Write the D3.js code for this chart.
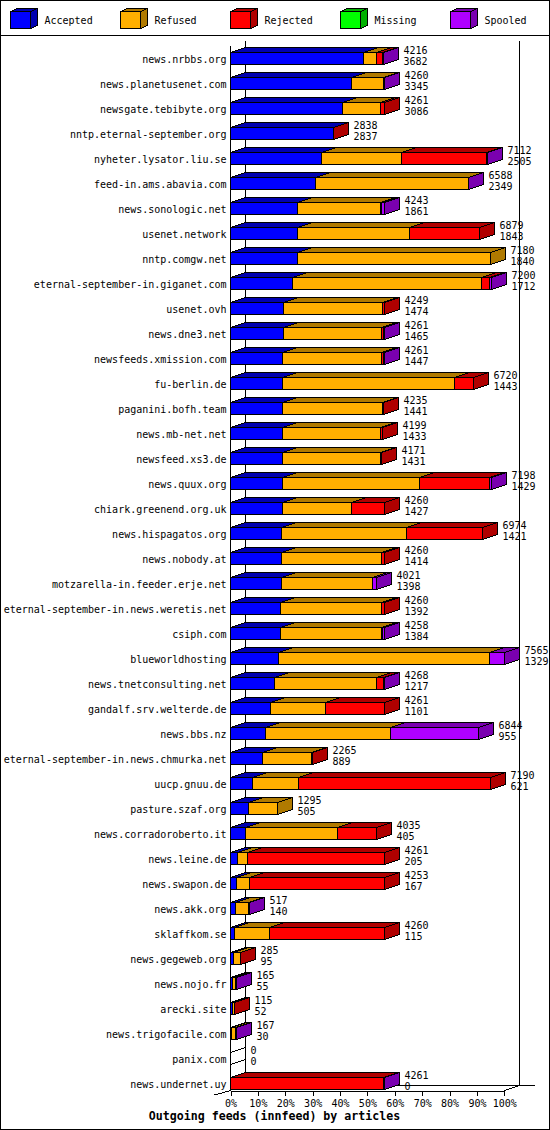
<!DOCTYPE html>
<html><head><meta charset="utf-8">
<script src="https://cdn.jsdelivr.net/npm/d3@7"></script>
<style>body{margin:0;background:#fff}svg{display:block}text{font-family:"DejaVu Sans Mono",monospace}rect,line,polygon,path{shape-rendering:crispEdges}</style>
</head><body><script>
const hosts=["news.nrbbs.org","news.planetusenet.com","newsgate.tebibyte.org","nntp.eternal-september.org","nyheter.lysator.liu.se","feed-in.ams.abavia.com","news.sonologic.net","usenet.network","nntp.comgw.net","eternal-september-in.giganet.com","usenet.ovh","news.dne3.net","newsfeeds.xmission.com","fu-berlin.de","paganini.bofh.team","news.mb-net.net","newsfeed.xs3.de","news.quux.org","chiark.greenend.org.uk","news.hispagatos.org","news.nobody.at","motzarella-in.feeder.erje.net","eternal-september-in.news.weretis.net","csiph.com","blueworldhosting","news.tnetconsulting.net","gandalf.srv.welterde.de","news.bbs.nz","eternal-september-in.news.chmurka.net","uucp.gnuu.de","pasture.szaf.org","news.corradoroberto.it","news.leine.de","news.swapon.de","news.akk.org","sklaffkom.se","news.gegeweb.org","news.nojo.fr","arecki.site","news.trigofacile.com","panix.com","news.undernet.uy"];
const accepted=[3682,3345,3086,2837,2505,2349,1861,1843,1840,1712,1474,1465,1447,1443,1441,1433,1431,1429,1427,1421,1414,1398,1392,1384,1329,1217,1101,955,889,621,505,405,205,167,140,115,95,55,52,30,0,0];
const refused=[348,890,1055,0,2217,4215,2289,3110,5340,5234,2734,2714,2713,4748,2767,2717,2700,3795,1910,3445,2765,2520,2787,2795,5830,2827,1530,3476,1346,1265,790,2565,259,346,353,949,176,71,45,115,0,0];
const rejected=[165,0,120,1,2360,0,30,1926,0,213,41,48,68,529,27,49,40,1935,923,2108,81,0,81,30,0,184,1630,0,30,5304,0,1065,3797,3740,0,3196,14,0,18,0,0,4220];
const missing=[0,0,0,0,0,0,0,0,0,0,0,0,0,0,0,0,0,0,0,0,0,0,0,0,0,0,0,0,0,0,0,0,0,0,0,0,0,0,0,0,0,0];
const spooled=[21,25,0,0,30,24,63,0,0,41,0,34,33,0,0,0,0,39,0,0,0,103,0,49,406,40,0,2413,0,0,0,0,0,0,24,0,0,39,0,22,0,41];
const seriesNames=["Accepted","Refused","Rejected","Missing","Spooled"];
const tickLabels=["0%","10%","20%","30%","40%","50%","60%","70%","80%","90%","100%"];
const colors=["#0000ff","#ffaf00","#ff0000","#00ff00","#af00ff"];
const darkColors=["#0000b0","#b07a00","#b00000","#00b000","#7a00b0"];

const W=550,H=1130,DX=15,DY=5;
const series=[accepted,refused,rejected,missing,spooled];
const totals=hosts.map((h,i)=>d3.sum(series,s=>s[i]));
const maxTotal=d3.max(totals);

const svg=d3.select("body").append("svg").attr("width",W).attr("height",H);
svg.append("rect").attr("x",0.5).attr("y",0.5).attr("width",W-1).attr("height",H-1).attr("fill","#fff").attr("stroke","#000");
svg.append("line").attr("x1",0).attr("x2",W).attr("y1",35.5).attr("y2",35.5).attr("stroke","#000");

// legend
const lg=svg.append("g");
seriesNames.forEach((n,i)=>{
  const x0=10.5+110*i, t=11.5, b=28.5, w=20, ldx=7, ldy=3;
  lg.append("rect").attr("x",x0).attr("y",t).attr("width",w).attr("height",b-t).attr("fill",colors[i]).attr("stroke","#000");
  lg.append("polygon").attr("points",[[x0,t],[x0+ldx,t-ldy],[x0+w+ldx,t-ldy],[x0+w,t]].join(" ")).attr("fill",darkColors[i]).attr("stroke","#000");
  lg.append("polygon").attr("points",[[x0+w,t],[x0+w+ldx,t-ldy],[x0+w+ldx,b-ldy],[x0+w,b]].join(" ")).attr("fill",darkColors[i]).attr("stroke","#000");
  lg.append("text").attr("x",x0+34).attr("y",23.6).attr("font-size",10).text(n);
});

const x=d3.scaleLinear().domain([0,100]).range([230.5,504.3]);
const px=v=>Math.round(x(v)-0.5)+0.5;
const y=d3.scalePoint().domain(hosts).range([59,1084]);
const X0=px(0), yTop=40.5, yFront=1090.5, yBack=yFront-DY;

// frame
const fr=svg.append("g").attr("stroke","#000").attr("fill","none");
fr.append("line").attr("x1",X0+DX).attr("x2",X0+DX).attr("y1",yTop).attr("y2",yBack);
fr.append("line").attr("x1",px(100)+DX).attr("x2",px(100)+DX).attr("y1",yTop).attr("y2",yBack);
fr.append("line").attr("x1",X0+DX).attr("x2",535).attr("y1",yBack).attr("y2",yBack);
fr.append("line").attr("x1",px(100)).attr("x2",px(100)+DX).attr("y1",yFront).attr("y2",yBack);
fr.append("line").attr("x1",X0-16).attr("x2",X0).attr("y1",yFront+4.5).attr("y2",yFront);
fr.append("line").attr("x1",X0).attr("x2",X0).attr("y1",yTop+DY).attr("y2",yFront);

// axis
const ax=svg.append("g").attr("transform",`translate(0,${yFront})`)
  .call(d3.axisBottom(x).tickValues(d3.range(0,101,10)).tickFormat((d,i)=>tickLabels[i]).tickSize(5).tickPadding(3));
ax.select(".domain").attr("stroke","#000");
ax.selectAll("line").attr("stroke","#000");
ax.selectAll("text").attr("font-family","DejaVu Sans Mono").attr("font-size",10).attr("fill","#000").attr("dy",0).attr("y",16.3);

// bars
const bars=svg.append("g");
hosts.forEach((h,i)=>{
  const yc=y(h), t=yc-6.5, b=yc+5.5;
  const g=bars.append("g");
  let cum=0;
  if(totals[i]===0){
    g.append("polygon").attr("points",[[X0,t],[X0+DX,t-DY],[X0+DX,b-DY],[X0,b]].join(" ")).attr("fill","#fff").attr("stroke","#000");
  }
  series.forEach((s,k)=>{
    const v=s[i]; if(!v) return;
    const x0=px(cum/maxTotal*100); cum+=v; const x1=px(cum/maxTotal*100);
    g.append("rect").attr("x",x0).attr("y",t).attr("width",x1-x0).attr("height",b-t).attr("fill",colors[k]).attr("stroke","#000");
    g.append("polygon").attr("points",[[x0,t],[x0+DX,t-DY],[x1+DX,t-DY],[x1,t]].join(" ")).attr("fill",darkColors[k]).attr("stroke","#000");
    g.append("polygon").attr("points",[[x1,t],[x1+DX,t-DY],[x1+DX,b-DY],[x1,b]].join(" ")).attr("fill",darkColors[k]).attr("stroke","#000");
  });
  const xe=px(totals[i]/maxTotal*100)+DX+5;
  g.append("text").attr("x",xe).attr("y",yc-5).attr("font-size",10).text(totals[i]);
  g.append("text").attr("x",xe).attr("y",yc+6).attr("font-size",10).text(accepted[i]);
  svg.append("text").attr("x",226.5).attr("y",yc+4).attr("text-anchor","end").attr("font-size",10).text(h);
});

svg.append("text").attr("x",274.5).attr("y",1119.5).attr("text-anchor","middle").attr("font-size",11.6).attr("font-weight","bold").text("Outgoing feeds (innfeed) by articles");
</script></body></html>
